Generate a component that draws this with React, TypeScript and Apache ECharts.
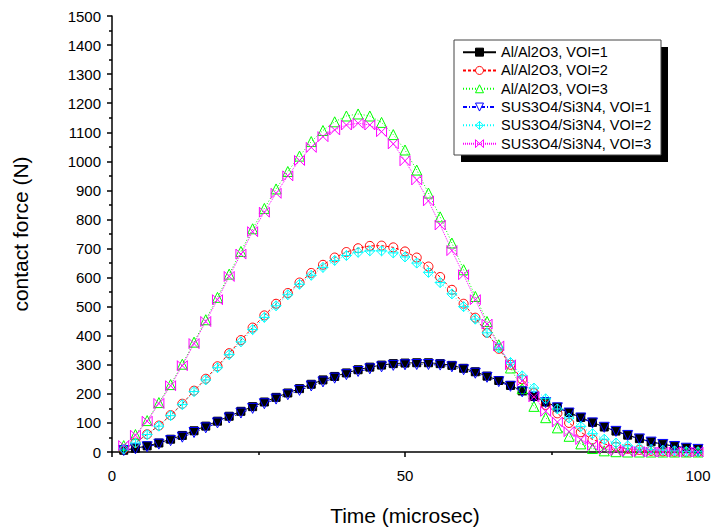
import React, { useEffect, useRef } from "react";
import * as echarts from "echarts";

const time = [2, 4, 6, 8, 10, 12, 14, 16, 18, 20, 22, 24, 26, 28, 30, 32, 34, 36, 38, 40, 42, 44, 46, 48, 50, 52, 54, 56, 58, 60, 62, 64, 66, 68, 70, 72, 74, 76, 78, 80, 82, 84, 86, 88, 90, 92, 94, 96, 98, 100];

const alVOI1 = [6, 13, 21, 31, 44, 57, 73, 89, 106, 123, 140, 156, 172, 188, 203, 218, 233, 248, 260, 272, 283, 292, 299, 304, 306, 307, 307, 304, 298, 288, 276, 261, 246, 229, 210, 191, 172, 154, 136, 119, 102, 86, 72, 58, 46, 35, 27, 20, 14, 10];
const alVOI2 = [10, 32, 61, 91, 127, 166, 211, 252, 295, 340, 385, 428, 470, 510, 547, 583, 616, 644, 669, 688, 701, 709, 710, 704, 690, 669, 638, 602, 558, 510, 462, 410, 355, 300, 250, 203, 162, 133, 100, 68, 43, 28, 18, 11, 7, 4, 2, 1, 0, 0];
const alVOI3 = [22, 60, 108, 170, 232, 302, 378, 455, 532, 612, 690, 768, 838, 905, 965, 1018, 1068, 1106, 1136, 1156, 1163, 1156, 1134, 1092, 1039, 970, 891, 809, 719, 627, 535, 449, 369, 289, 218, 157, 118, 83, 54, 28, 12, 4, 1, 0, 0, 0, 0, 0, 0, 0];
const susVOI1 = [5, 11, 18, 27, 39, 51, 67, 83, 100, 117, 134, 150, 166, 182, 197, 212, 227, 241, 254, 266, 277, 286, 293, 298, 300, 301, 301, 299, 293, 283, 271, 257, 242, 226, 207, 189, 170, 152, 134, 117, 100, 85, 71, 57, 45, 34, 26, 19, 13, 9];
const susVOI2 = [10, 31, 60, 89, 125, 163, 208, 248, 290, 335, 379, 421, 463, 503, 541, 577, 608, 635, 659, 676, 687, 692, 692, 685, 671, 650, 618, 583, 544, 500, 457, 410, 358, 308, 262, 220, 183, 148, 117, 88, 63, 44, 31, 21, 14, 9, 6, 4, 2, 1];
const susVOI3 = [22, 58, 106, 167, 228, 297, 373, 449, 524, 604, 681, 758, 825, 890, 950, 1003, 1048, 1085, 1108, 1125, 1131, 1125, 1102, 1060, 1002, 936, 864, 781, 693, 610, 524, 440, 365, 300, 245, 190, 140, 103, 70, 43, 23, 11, 5, 2, 1, 0, 0, 0, 0, 0];

const seriesNames = [
  "Al/Al2O3, VOI=1",
  "Al/Al2O3, VOI=2",
  "Al/Al2O3, VOI=3",
  "SUS3O4/Si3N4, VOI=1",
  "SUS3O4/Si3N4, VOI=2",
  "SUS3O4/Si3N4, VOI=3",
];
const seriesColors = ["#000000", "#ff0000", "#00ff00", "#0000ff", "#00ffff", "#ff00ff"];

const FONT = "'Liberation Sans', Arial, sans-serif";

const pair = (vals: number[]) => time.map((t, i) => [t, vals[i]]);

const diamondCross = "path://M5,0 L10,5 L5,10 L0,5 Z M5,0 L5,10 M0,5 L10,5";
const bowtieX = "path://M0,0 L10,10 M0,10 L10,0 M0,0 L0,10 M10,0 L10,10";

function mkSeries(
  name: string,
  vals: number[],
  color: string,
  lineType: any,
  symbol: string,
  size: number,
  filled: boolean,
  rotate = 0
) {
  return {
    name,
    type: "line",
    data: pair(vals),
    symbol,
    symbolSize: size,
    symbolRotate: rotate,
    showSymbol: true,
    lineStyle: { color, width: 1, type: lineType },
    itemStyle: filled
      ? { color, borderColor: color, borderWidth: 1 }
      : { color: "rgba(0,0,0,0)", borderColor: color, borderWidth: 1 },
    emphasis: { disabled: true },
  };
}

export default function App() {
  const ref = useRef<HTMLDivElement>(null);
  useEffect(() => {
    const chart = echarts.init(ref.current!, null, { renderer: "svg" });
    const axisCommon = {
      axisLine: { show: true, lineStyle: { color: "#000", width: 1.5 } },
      axisTick: { show: true, inside: false, length: 5, lineStyle: { color: "#000", width: 1.5 } },
      minorTick: { show: true, splitNumber: 2, length: 3, lineStyle: { color: "#000", width: 1.5 } },
      splitLine: { show: false },
      minorSplitLine: { show: false },
    };
    chart.setOption({
      animation: false,
      backgroundColor: "#fff",
      textStyle: { fontFamily: FONT },
      grid: { left: 112, right: 19, top: 16, bottom: 78.5, containLabel: false },
      xAxis: {
        type: "value",
        min: 0,
        max: 100,
        interval: 50,
        ...axisCommon,
        axisLabel: { color: "#000", fontSize: 15, fontFamily: FONT, margin: 16, formatter: (v: number) => String(v) },
        name: "Time (microsec)",
        nameLocation: "middle",
        nameGap: 53,
        nameTextStyle: { color: "#000", fontSize: 21, fontFamily: FONT },
      },
      yAxis: {
        type: "value",
        min: 0,
        max: 1500,
        interval: 100,
        ...axisCommon,
        axisLabel: { color: "#000", fontSize: 15, fontFamily: FONT, margin: 11, formatter: (v: number) => String(v) },
        name: "contact force (N)",
        nameLocation: "middle",
        nameGap: 81,
        nameTextStyle: { color: "#000", fontSize: 21, fontFamily: FONT },
      },
      legend: {
        data: seriesNames.map((n, i) => ({
          name: n,
          itemStyle: {
            color: i === 0 ? "#000" : "#fff",
            borderColor: seriesColors[i],
            borderWidth: 1,
          },
        })),
        orient: "vertical",
        left: 462,
        top: 43,
        padding: 0,
        itemWidth: 33,
        itemHeight: 10,
        itemGap: 0,
        textStyle: { color: "#000", fontSize: 14.5, lineHeight: 18.3, fontFamily: FONT },
        z: 10,
      },
      graphic: [
        {
          type: "rect",
          z: 8,
          shape: { x: 461, y: 47, width: 207, height: 115 },
          style: { fill: "#000" },
        },
        {
          type: "rect",
          z: 9,
          shape: { x: 454, y: 40, width: 207, height: 115 },
          style: { fill: "#fff", stroke: "#444", lineWidth: 1 },
        },
      ],
      series: [
        mkSeries(seriesNames[0], alVOI1, seriesColors[0], "solid", "rect", 8, true),
        mkSeries(seriesNames[1], alVOI2, seriesColors[1], [3, 2], "circle", 9, false),
        mkSeries(seriesNames[2], alVOI3, seriesColors[2], [1, 2], "triangle", 10, false),
        mkSeries(seriesNames[3], susVOI1, seriesColors[3], [4, 2, 1, 2], "triangle", 10, false, 180),
        mkSeries(seriesNames[4], susVOI2, seriesColors[4], [1, 2], diamondCross, 10, false),
        mkSeries(seriesNames[5], susVOI3, seriesColors[5], [1, 1], bowtieX, 10, false),
      ],
    });
    return () => chart.dispose();
  }, []);
  return (
    <div
      ref={ref}
      style={{ position: "fixed", left: 0, top: 0, width: 717, height: 531 }}
    />
  );
}
